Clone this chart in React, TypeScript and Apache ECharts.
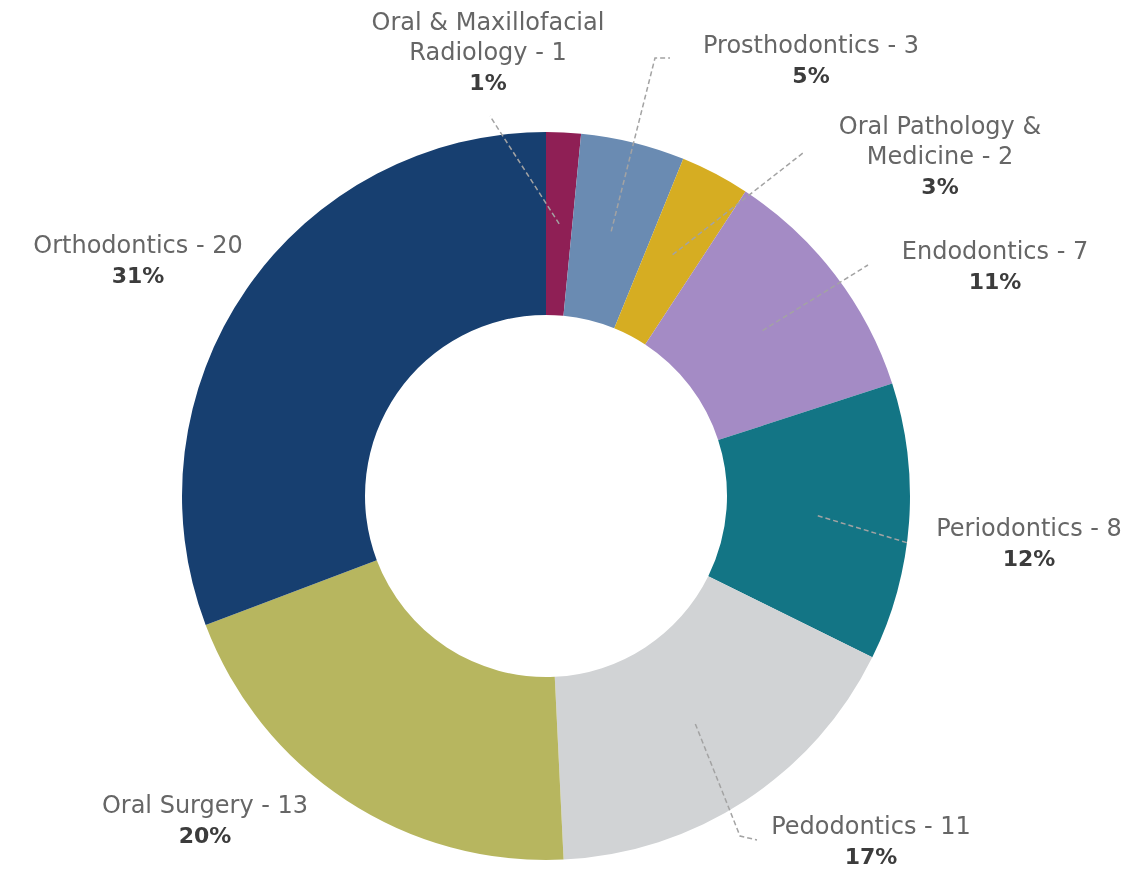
import React, { useEffect, useRef } from "react";
import * as echarts from "echarts";

const categories = [
  "Oral & Maxillofacial\nRadiology",
  "Prosthodontics",
  "Oral Pathology &\nMedicine",
  "Endodontics",
  "Periodontics",
  "Pedodontics",
  "Oral Surgery",
  "Orthodontics",
];
const counts = [1, 3, 2, 7, 8, 11, 13, 20];
const colors = ["#8f1f55", "#6a8bb2", "#d6ad22", "#a48bc5", "#137585", "#d1d3d5", "#b7b65f", "#173f70"];

// label anchor (centre of the text block) and leader-line end points
const labelPos: [number, number][] = [
  [488, 52], [811, 60], [940, 156], [995, 266], [1029, 543], [871, 841], [205, 820], [138, 260],
];
const leaderEnds: ([number, number][] | null)[] = [
  [[490, 116]],
  [[655, 58], [670, 58]],
  [[803, 153]],
  [[868, 265]],
  [[908, 543]],
  [[740, 836], [757, 840]],
  null,
  null,
];

const CX = 546;
const CY = 496;
const R_IN = 181;
const R_OUT = 364;

export default function App() {
  const ref = useRef<HTMLDivElement>(null);
  useEffect(() => {
    if (!ref.current) return;
    const chart = echarts.init(ref.current, undefined, { renderer: "svg" });
    const total = counts.reduce((a, b) => a + b, 0);
    const midAngles: number[] = [];
    let acc = 0;
    counts.forEach((v) => {
      midAngles.push(((acc + v / 2) / total) * Math.PI * 2);
      acc += v;
    });
    const rMid = (R_IN + R_OUT) / 2;
    const base = {
      type: "pie",
      center: [CX, CY],
      radius: [R_IN, R_OUT],
      startAngle: 90,
      clockwise: true,
      avoidLabelOverlap: false,
      percentPrecision: 0,
    };
    chart.setOption({
      animation: false,
      series: [
        {
          ...base,
          z: 2,
          data: categories.map((c, i) => ({ name: c, value: counts[i], itemStyle: { color: colors[i] } })),
          label: { show: false },
          labelLine: { show: false },
        },
        {
          ...base,
          z: 5,
          silent: true,
          data: categories.map((c, i) => ({
            name: c,
            value: counts[i],
            itemStyle: { color: "rgba(0,0,0,0)" },
            labelLine: { show: leaderEnds[i] !== null },
          })),
          label: {
            show: true,
            position: "outside",
            formatter: (p: any) => {
              const lines = String(p.name).split("\n");
              const last = lines.length - 1;
              lines[last] = lines[last] + " - " + p.value;
              return lines.map((l) => "{n|" + l + "}").join("\n") + "\n{p|" + p.percent + "%}";
            },
            rich: {
              n: {
                fontFamily: "DejaVu Sans",
                fontSize: 24,
                color: "#666666",
                lineHeight: 30,
                align: "center",
              },
              p: {
                fontFamily: "DejaVu Sans",
                fontSize: 22,
                fontWeight: "bold",
                color: "#3c3c3c",
                lineHeight: 30,
                align: "center",
              },
            },
          },
          labelLine: {
            show: true,
            lineStyle: { type: [5, 3], color: "#a3a3a3", width: 1.5 },
          },
          labelLayout: (params: any) => {
            const i = params.dataIndex;
            const [x, y] = labelPos[i];
            const a = midAngles[i];
            const start: [number, number] = [CX + rMid * Math.sin(a), CY - rMid * Math.cos(a)];
            const ends = leaderEnds[i];
            const out: any = { x, y, align: "center", verticalAlign: "middle", hideOverlap: false, moveOverlap: false };
            if (ends) {
              const pts = [start, ...ends];
              while (pts.length < 3) pts.push(pts[pts.length - 1]);
              out.labelLinePoints = pts;
            }
            return out;
          },
        },
      ],
    });
    return () => chart.dispose();
  }, []);
  return <div ref={ref} style={{ position: "fixed", left: 0, top: 0, width: 1140, height: 869 }} />;
}
